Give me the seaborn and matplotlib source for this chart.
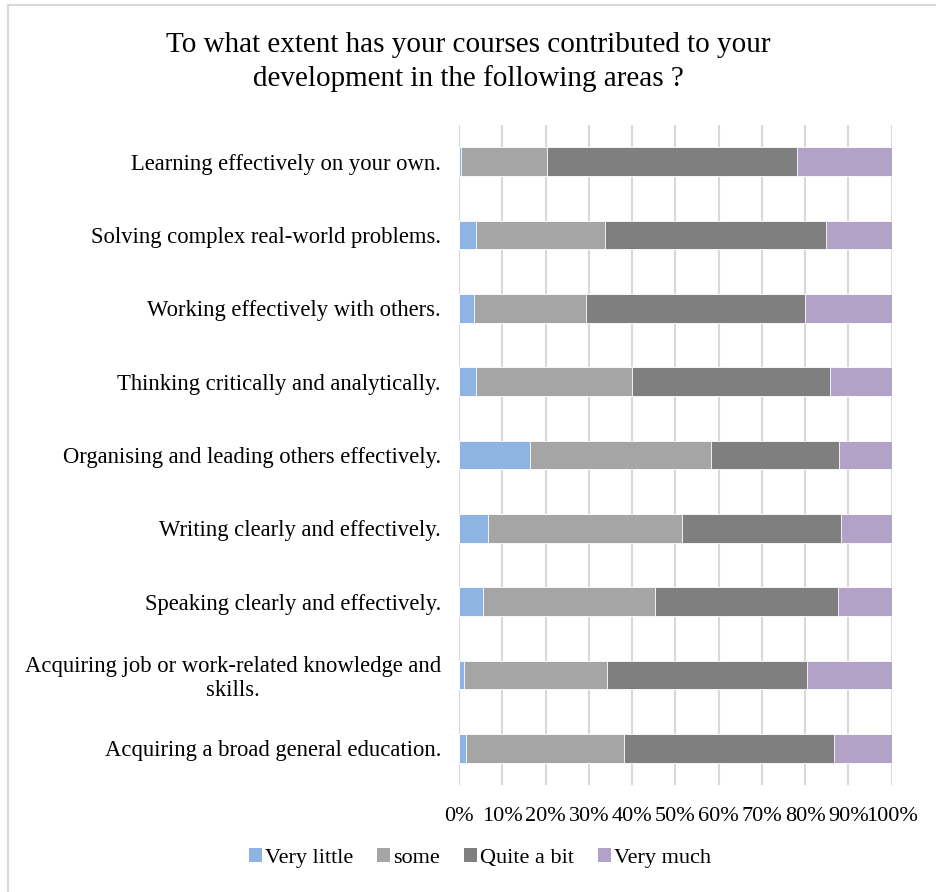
import matplotlib
matplotlib.use("Agg")
import matplotlib.pyplot as plt
import seaborn as sns
import pandas as pd
import numpy as np
from matplotlib.patches import Patch
from matplotlib.lines import Line2D

categories = [
    "Learning effectively on your own.",
    "Solving complex real-world problems.",
    "Working effectively with others.",
    "Thinking critically and analytically.",
    "Organising and leading others effectively.",
    "Writing clearly and effectively.",
    "Speaking clearly and effectively.",
    "Acquiring job or work-related knowledge and\nskills.",
    "Acquiring a broad general education.",
]
series_names = ["Very little", "some", "Quite a bit", "Very much"]
very_little = [0.4, 3.9, 3.5, 3.9, 16.3, 6.6, 5.6, 1.2, 1.7]
some        = [20.0, 29.8, 25.8, 36.1, 41.9, 44.9, 39.7, 32.9, 36.5]
quite_a_bit = [57.7, 51.1, 50.7, 45.7, 29.7, 36.8, 42.3, 46.3, 48.5]
very_much   = [21.9, 15.2, 20.0, 14.3, 12.1, 11.7, 12.4, 19.6, 13.3]
x_ticks = [0, 10, 20, 30, 40, 50, 60, 70, 80, 90, 100]

colors = ["#8EB4E3", "#A5A5A5", "#7F7F7F", "#B3A2C7"]

sns.set_theme(style="white")
plt.rcParams["font.family"] = ["Liberation Serif", "DejaVu Serif"]
plt.rcParams["text.color"] = "black"
plt.rcParams["xtick.color"] = "black"
plt.rcParams["ytick.color"] = "black"

df = pd.DataFrame({
    "category": categories,
    "Very little": very_little,
    "some": some,
    "Quite a bit": quite_a_bit,
    "Very much": very_much,
})
cum = df[series_names].cumsum(axis=1)
cum = cum.div(cum["Very much"], axis=0) * 100

fig = plt.figure(figsize=(9.36, 8.92), dpi=100)
ax = fig.add_axes([459 / 936, 1 - 785 / 892, (891.7 - 459) / 936, 660 / 892])

for i in range(len(series_names) - 1, -1, -1):
    name = series_names[i]
    sns.barplot(x=cum[name], y=df["category"], order=categories, orient="h",
                color=colors[i], width=0.39, ax=ax, saturation=1,
                edgecolor="white", linewidth=0.6, zorder=2)

ax.set_xlim(0, 100)
ax.set_ylim(8.5, -0.5)
ax.set_xticks(x_ticks)
ax.set_xticklabels([f"{t}%" for t in x_ticks], fontsize=16, color="black")
ax.xaxis.grid(True, color="#D9D9D9", linewidth=1.5, zorder=0)
ax.yaxis.grid(False)
ax.set_axisbelow(True)
for s in ax.spines.values():
    s.set_visible(False)
ax.tick_params(axis="x", length=0, pad=16)
ax.tick_params(axis="y", length=0, pad=13)
ax.set_xlabel("")
ax.set_ylabel("")
for lbl in ax.get_yticklabels():
    lbl.set_fontsize(16.3)
    lbl.set_color("black")
    lbl.set_multialignment("center")
    lbl.set_linespacing(1.15)

fig.text(468 / 936, 1 - 62 / 892,
         "To what extent has your courses contributed to your\ndevelopment in the following areas ?",
         ha="center", va="center", fontsize=21, linespacing=1.3, color="black")

handles = [Patch(facecolor=c, edgecolor="none") for c in colors]
leg = fig.legend(handles, series_names, loc="center", bbox_to_anchor=(480 / 936, 1 - 858 / 892),
                 ncol=4, frameon=False, fontsize=16, handlelength=0.6, handleheight=0.6,
                 handletextpad=0.15, columnspacing=1.05)
for t in leg.get_texts():
    t.set_color("black")

# chart area border
fig.add_artist(Line2D([8 / 936, 8 / 936], [0, 1 - 5 / 892], transform=fig.transFigure,
                      color="#D9D9D9", linewidth=1.5))
fig.add_artist(Line2D([8 / 936, 1], [1 - 5 / 892, 1 - 5 / 892], transform=fig.transFigure,
                      color="#D9D9D9", linewidth=1.5))

fig.savefig("out.png", dpi=100, facecolor="white")
